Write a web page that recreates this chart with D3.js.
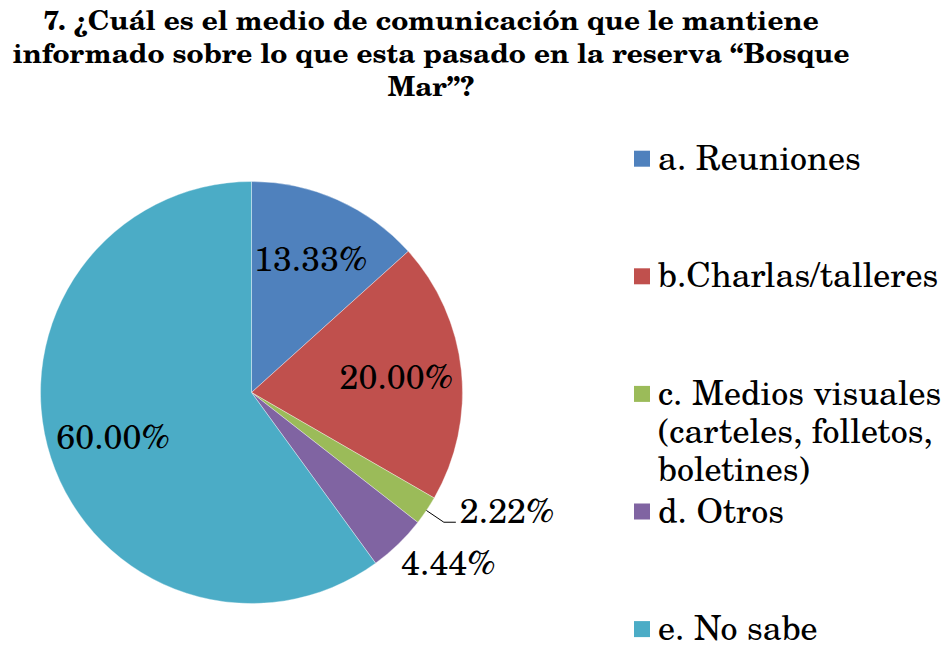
<!DOCTYPE html>
<html>
<head>
<meta charset="utf-8">
<script src="https://cdn.jsdelivr.net/npm/d3@7"></script>
<style>
  body { margin: 0; background: #fff; }
</style>
</head>
<body>
<svg id="chart" width="948" height="646"></svg>
<script>
// chart data
var titleLines = ["7. ¿Cuál es el medio de comunicación que le mantiene",
                  "informado sobre lo que esta pasado en la reserva “Bosque",
                  "Mar”?"];
var categories = ["a. Reuniones", "b.Charlas/talleres",
                  "c. Medios visuales (carteles, folletos, boletines)",
                  "d. Otros", "e. No sabe"];
var legendLines = [["a. Reuniones"], ["b.Charlas/talleres"],
                   ["c. Medios visuales", "(carteles, folletos,", "boletines)"],
                   ["d. Otros"], ["e. No sabe"]];
var values = [13.33, 20.00, 2.22, 4.44, 60.00];
var colors = ["#4F81BD", "#C0504D", "#9BBB59", "#8064A2", "#4BACC6"];
// label placement kind: inside, outside, or outside with leader
var labelKind = ["in", "in", "leader", "out", "in"];

var fontFam = "'TeX Gyre Schola', 'DejaVu Serif', serif";
var svg = d3.select("#chart");

// title, fitted so the widest line matches the original width
var title = svg.append("g");
var tl = title.selectAll("text")
  .data(titleLines)
  .enter().append("text")
  .attr("x", 431)
  .attr("y", function(d, i) { return 30 + i * 33; })
  .attr("text-anchor", "middle")
  .attr("font-size", "27px")
  .attr("font-weight", "bold")
  .style("font-family", fontFam)
  .text(function(d) { return d; });
var widths = tl.nodes().map(function(n) { return n.getComputedTextLength(); });
var squeeze = 837 / d3.max(widths);
tl.attr("textLength", function(d, i) { return widths[i] * squeeze; })
  .attr("lengthAdjust", "spacingAndGlyphs");

// pie
var cx = 251.5, cy = 392.5, r = 211;
var pie = d3.pie().sort(null).value(function(d) { return d; });
var arcs = pie(values);
var arc = d3.arc().innerRadius(0).outerRadius(r);
var labelArc = d3.arc().innerRadius(r * 0.69).outerRadius(r * 0.69);

var g = svg.append("g").attr("transform", "translate(" + cx + "," + cy + ")");

g.selectAll(".slice")
  .data(arcs)
  .enter().append("path")
  .attr("class", "slice")
  .attr("d", arc)
  .attr("fill", function(d, i) { return colors[i]; })
  .attr("stroke", "#ffffff")
  .attr("stroke-width", 0.6)
  .attr("stroke-opacity", 0.6);

var fmt = function(v) { return v.toFixed(2) + "%"; };

arcs.forEach(function(d, i) {
  var mid = (d.startAngle + d.endAngle) / 2;
  var ex = r * Math.sin(mid), ey = -r * Math.cos(mid);
  var t;
  if (labelKind[i] == "in") {
    var c = labelArc.centroid(d);
    t = g.append("text")
      .attr("x", c[0]).attr("y", c[1])
      .attr("dy", "0.35em")
      .attr("text-anchor", "middle");
  } else if (labelKind[i] == "out") {
    t = g.append("text")
      .attr("x", ex + 3).attr("y", ey + 31);
  } else {
    var kx = (r + 21) * Math.sin(mid), ky = -(r + 21) * Math.cos(mid);
    g.append("path")
      .attr("d", d3.line()([[ex, ey], [kx, ky], [kx + 12, ky]]))
      .attr("fill", "none")
      .attr("stroke", "#000")
      .attr("stroke-width", 1);
    t = g.append("text")
      .attr("x", kx + 16).attr("y", ky + 1);
  }
  t.attr("font-size", "34px")
    .attr("fill", "#000")
    .style("font-family", fontFam)
    .text(fmt(values[i]));
});

// legend
var legend = svg.append("g").attr("transform", "translate(634,0)");
var items = legend.selectAll(".item")
  .data(categories)
  .enter().append("g")
  .attr("class", "item")
  .attr("transform", function(d, i) { return "translate(0," + (158.7 + i * 117.6) + ")"; });

items.append("rect")
  .attr("x", 0).attr("y", -8)
  .attr("width", 16).attr("height", 16)
  .attr("fill", function(d, i) { return colors[i]; });

items.append("text")
  .attr("font-size", "34px")
  .attr("fill", "#000")
  .style("font-family", fontFam)
  .each(function(d, i) {
    var t = d3.select(this);
    legendLines[i].forEach(function(line, j) {
      t.append("tspan")
        .attr("x", 24)
        .attr("y", 11 + j * 38)
        .text(line);
    });
  });
</script>
</body>
</html>
